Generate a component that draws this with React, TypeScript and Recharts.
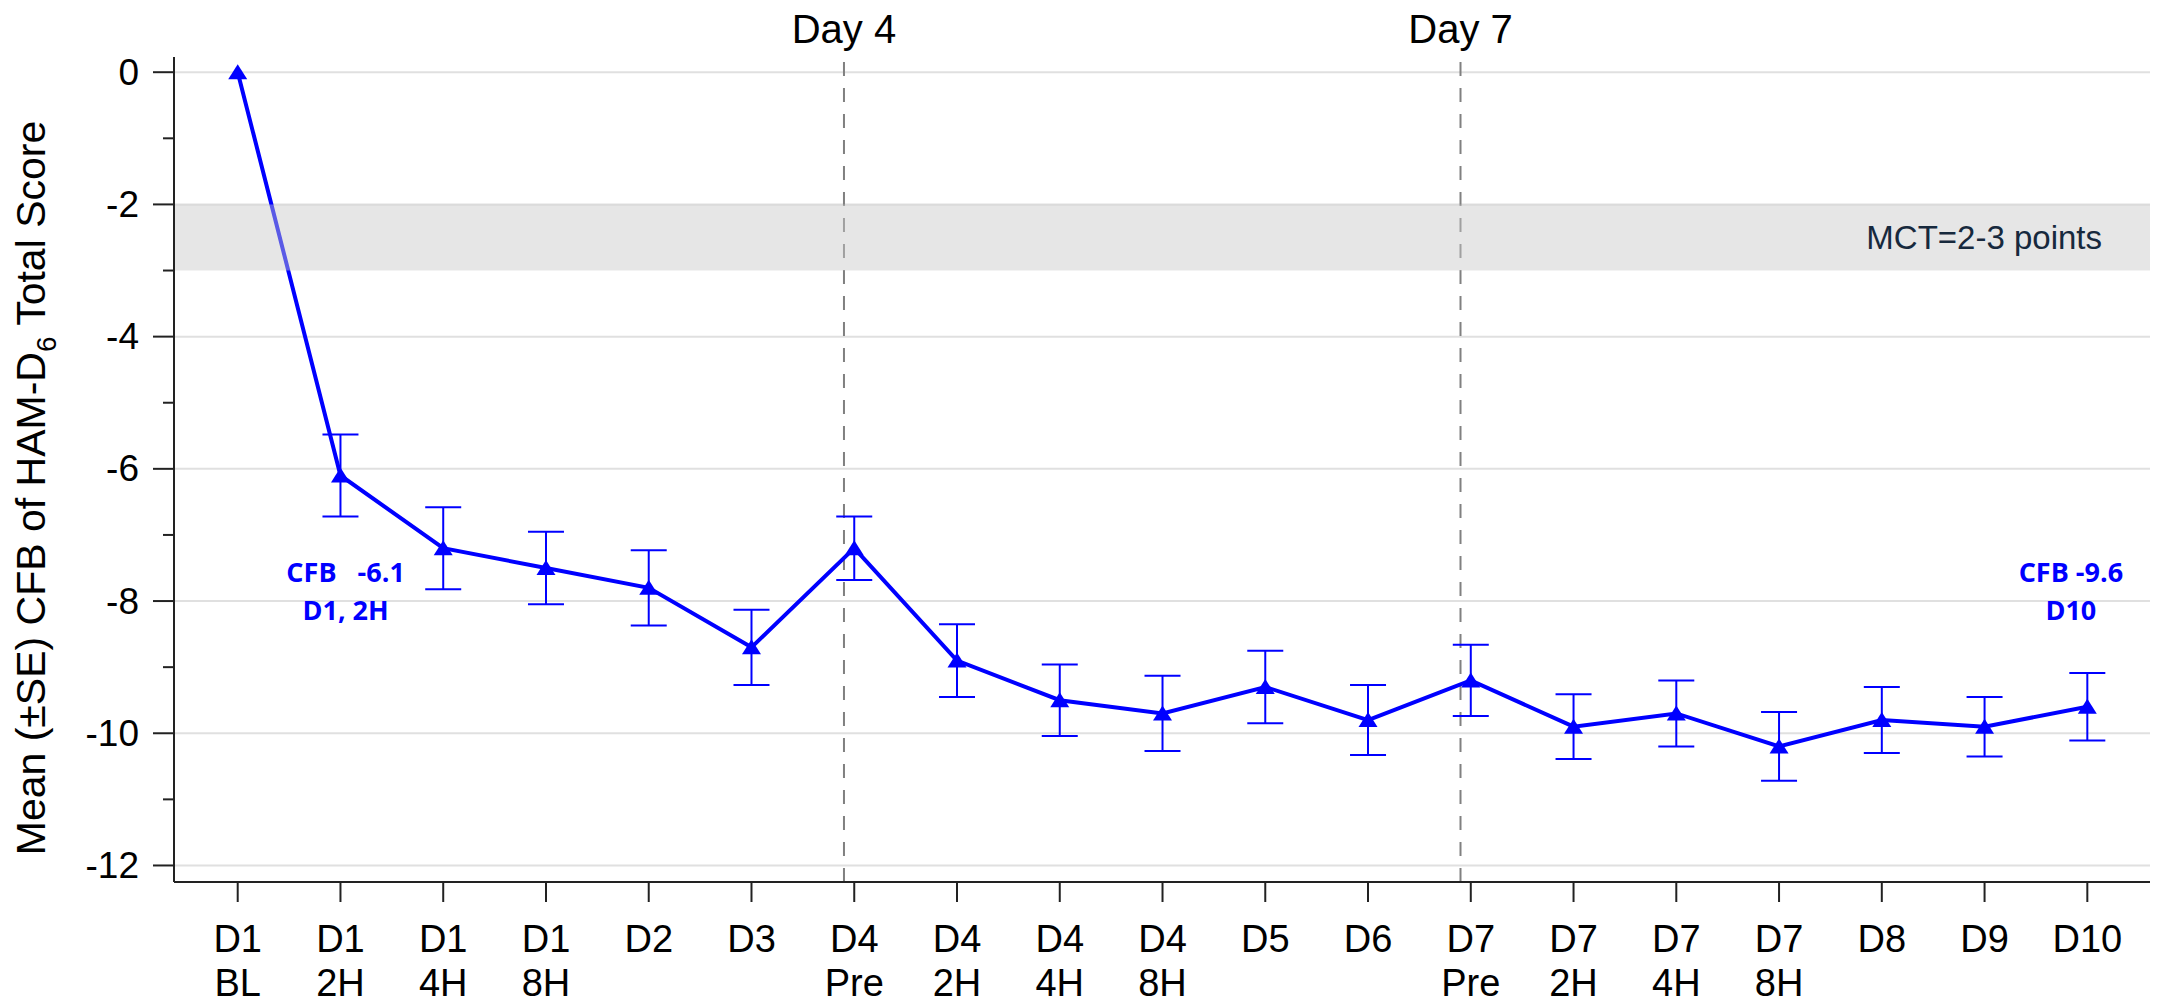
import React from "react";
import {
  ComposedChart,
  Line,
  XAxis,
  YAxis,
  ErrorBar,
  CartesianGrid,
  ReferenceLine,
  ReferenceArea,
  ReferenceDot,
} from "recharts";

// visit labels (two lines each)
const timepoints: string[][] = [
  ["D1", "BL"],
  ["D1", "2H"],
  ["D1", "4H"],
  ["D1", "8H"],
  ["D2", ""],
  ["D3", ""],
  ["D4", "Pre"],
  ["D4", "2H"],
  ["D4", "4H"],
  ["D4", "8H"],
  ["D5", ""],
  ["D6", ""],
  ["D7", "Pre"],
  ["D7", "2H"],
  ["D7", "4H"],
  ["D7", "8H"],
  ["D8", ""],
  ["D9", ""],
  ["D10", ""],
];

// mean change from baseline and its SE
const meanCfb = [
  0, -6.1, -7.2, -7.5, -7.8, -8.7, -7.2, -8.9, -9.5, -9.7, -9.3, -9.8, -9.2,
  -9.9, -9.7, -10.2, -9.8, -9.9, -9.6,
];
const seCfb = [
  0, 0.62, 0.62, 0.55, 0.57, 0.57, 0.48, 0.55, 0.54, 0.57, 0.55, 0.53, 0.54,
  0.49, 0.5, 0.52, 0.5, 0.45, 0.51,
];

const yTicks = [0, -1, -2, -3, -4, -5, -6, -7, -8, -9, -10, -11, -12];
const gridValues = [0, -2, -4, -6, -8, -10, -12];
const xTicks = timepoints.map((_, i) => i);

const dayMarkers = [
  { x: 5.9, label: "Day 4" },
  { x: 11.9, label: "Day 7" },
];
const mctBand = { low: -3, high: -2, label: "MCT=2-3 points" };
const callouts = [
  { x: 1.05, y: -7.71, lines: ["CFB\u00a0\u00a0 -6.1", "D1, 2H"] },
  { x: 17.84, y: -7.71, lines: ["CFB -9.6", "D10"] },
];

const data = timepoints.map((t, i) => ({
  idx: i,
  mean: meanCfb[i],
  se: seCfb[i],
}));

const W = 2157;
const H = 1006;
const PLOT_LEFT = 174;
const PLOT_TOP = 57;
const PLOT_BOTTOM = 882;
const BLUE = "#0000ff";
const AXIS = "#222";
const SANS = "'Liberation Sans', Arial, sans-serif";
const NARROW = "'Liberation Sans Narrow', 'Arial Narrow', 'Liberation Sans', sans-serif";

const Triangle = (props: any) => {
  const { cx, cy } = props;
  if (cx == null || cy == null) return null;
  return (
    <path
      d={`M${cx},${cy - 8} L${cx + 9.5},${cy + 7} L${cx - 9.5},${cy + 7} Z`}
      fill={BLUE}
    />
  );
};

const YTick = (props: any) => {
  const { payload } = props;
  const y = payload.coordinate;
  const major = payload.value % 2 === 0;
  return (
    <g>
      <line
        x1={PLOT_LEFT - (major ? 21 : 11)}
        x2={PLOT_LEFT}
        y1={y}
        y2={y}
        stroke={AXIS}
        strokeWidth={2}
      />
      {major && (
        <text
          x={PLOT_LEFT - 35}
          y={y}
          textAnchor="end"
          dominantBaseline="central"
          fontSize={37}
          fontFamily={SANS}
          fill="#000"
        >
          {payload.value}
        </text>
      )}
    </g>
  );
};

const XTick = (props: any) => {
  const { payload } = props;
  const x = payload.coordinate;
  const [a, b] = timepoints[payload.value] || ["", ""];
  return (
    <g>
      <line x1={x} x2={x} y1={PLOT_BOTTOM} y2={PLOT_BOTTOM + 20} stroke={AXIS} strokeWidth={2} />
      <text x={x} y={PLOT_BOTTOM + 70} textAnchor="middle" fontSize={38} fontFamily={NARROW} fill="#000">
        {a}
      </text>
      {b && (
        <text x={x} y={PLOT_BOTTOM + 114} textAnchor="middle" fontSize={38} fontFamily={NARROW} fill="#000">
          {b}
        </text>
      )}
    </g>
  );
};

const YLabel = () => (
  <text
    transform="translate(45,488) rotate(-90)"
    textAnchor="middle"
    fontSize={41}
    fontFamily={SANS}
    fill="#000"
  >
    Mean (±SE) CFB of HAM-D
    <tspan fontSize={28} dy={11}>
      6
    </tspan>
    <tspan dy={-11}> Total Score</tspan>
  </text>
);

const DayLabel = (props: any) => {
  const { viewBox, value } = props;
  if (!viewBox) return null;
  return (
    <text
      x={viewBox.x}
      y={viewBox.y - 14}
      textAnchor="middle"
      fontSize={40}
      fontFamily={NARROW}
      fill="#000"
    >
      {value}
    </text>
  );
};

const BandLabel = (props: any) => {
  const { viewBox } = props;
  if (!viewBox) return null;
  return (
    <text
      x={viewBox.x + viewBox.width - 48}
      y={viewBox.y + viewBox.height / 2}
      textAnchor="end"
      dominantBaseline="central"
      fontSize={33}
      fontFamily={SANS}
      fill="#17293d"
    >
      {mctBand.label}
    </text>
  );
};

const Callout = (lines: string[]) => (props: any) => {
  const { cx, cy } = props;
  if (cx == null || cy == null) return null;
  return (
    <text
      textAnchor="middle"
      fontSize={27}
      fontWeight={700}
      fontFamily="'Open Sans', 'Noto Sans', sans-serif"
      fill={BLUE}
    >
      {lines.map((l, i) => (
        <tspan key={i} x={cx} y={cy + i * 38}>
          {l}
        </tspan>
      ))}
    </text>
  );
};

export default function App() {
  return (
    <div style={{ position: "absolute", left: 0, top: 0, width: W, height: H, background: "#fff" }}>
      <ComposedChart
        width={W}
        height={H}
        data={data}
        margin={{ top: PLOT_TOP, right: 7, bottom: 0, left: 0 }}
      >
        <CartesianGrid
          vertical={false}
          horizontalValues={gridValues}
          stroke="#e0e0e0"
          strokeWidth={2}
        />
        <XAxis
          type="number"
          dataKey="idx"
          domain={[-0.62, 18.61]}
          allowDataOverflow
          ticks={xTicks}
          interval={0}
          height={H - PLOT_BOTTOM}
          tick={<XTick />}
          tickLine={false}
          axisLine={{ stroke: AXIS, strokeWidth: 2 }}
        />
        <YAxis
          type="number"
          domain={[-12.25, 0.23]}
          allowDataOverflow
          ticks={yTicks}
          interval={0}
          width={PLOT_LEFT}
          tick={<YTick />}
          tickLine={false}
          axisLine={{ stroke: AXIS, strokeWidth: 2 }}
          label={<YLabel />}
        />
        {dayMarkers.map((d) => (
          <ReferenceLine
            key={d.label}
            x={d.x}
            stroke="#808080"
            strokeWidth={2}
            strokeDasharray="14 12"
            label={<DayLabel value={d.label} />}
          />
        ))}
        <Line
          type="linear"
          dataKey="mean"
          stroke={BLUE}
          strokeWidth={4}
          dot={(p: any) => <Triangle key={p.index} {...p} />}
          activeDot={false}
          isAnimationActive={false}
        >
          <ErrorBar dataKey="se" width={18} stroke={BLUE} strokeWidth={2} direction="y" />
        </Line>
        <ReferenceArea
          y1={mctBand.low}
          y2={mctBand.high}
          fill="#c8c8c8"
          fillOpacity={0.45}
          stroke="none"
          zIndex={450}
          label={<BandLabel />}
        />
        {callouts.map((c, i) => (
          <ReferenceDot key={i} x={c.x} y={c.y} r={0} shape={Callout(c.lines)} />
        ))}
      </ComposedChart>
    </div>
  );
}
